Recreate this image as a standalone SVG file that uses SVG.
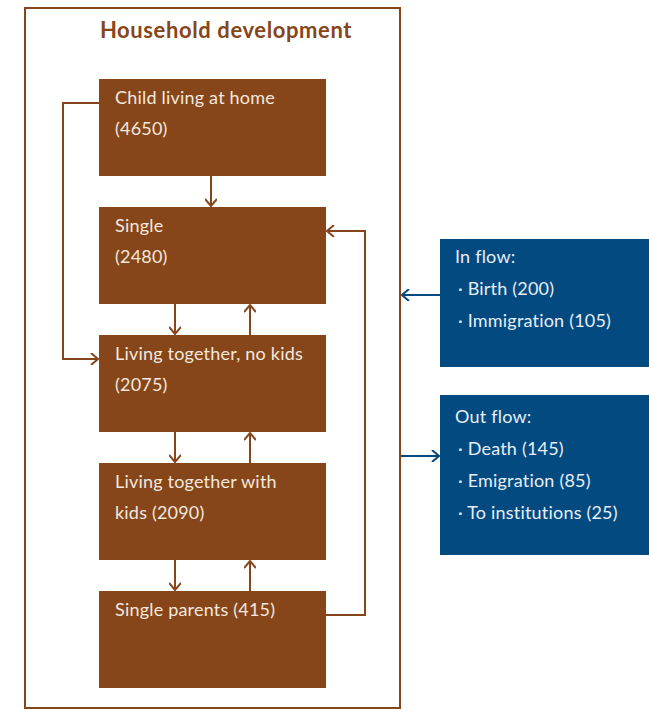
<svg xmlns="http://www.w3.org/2000/svg" width="649" height="710" viewBox="0 0 649 710">
<defs>
<style>
.frame{fill:#fff;stroke:#86461a;stroke-width:2}
.title{font-family:"Lato","Liberation Sans",sans-serif;font-weight:bold;font-size:22px;letter-spacing:0.6px;fill:#86461a}
.bbox{fill:#86461a}
.blue{fill:#034a80}
.t{font-family:"Lato","Liberation Sans",sans-serif;font-size:18px;letter-spacing:0.2px;fill:#f3e8de}
.tb{font-family:"Lato","Liberation Sans",sans-serif;font-size:18px;letter-spacing:0.2px;fill:#e8eef6}
.c{fill:none;stroke:#86461a;stroke-width:2}
.cb{fill:none;stroke:#034a80;stroke-width:2}
</style>
<marker id="ah" viewBox="0 0 12 12" refX="11" refY="6" markerWidth="12" markerHeight="12" markerUnits="userSpaceOnUse" orient="auto">
<polyline points="4,0 11,6 4,12" fill="none" stroke="#86461a" stroke-width="2"/>
</marker>
<marker id="ahb" viewBox="0 0 12 12" refX="11" refY="6" markerWidth="12" markerHeight="12" markerUnits="userSpaceOnUse" orient="auto">
<polyline points="4,0 11,6 4,12" fill="none" stroke="#034a80" stroke-width="2"/>
</marker>
</defs>
<rect class="frame" x="25" y="8" width="375" height="700"/>
<text class="title" x="226" y="38" text-anchor="middle">Household development</text>
<g id="connectors">
<path class="c" d="M211,175 V206" marker-end="url(#ah)"/>
<path class="c" d="M175,304 V334" marker-end="url(#ah)"/>
<path class="c" d="M250,335 V305" marker-end="url(#ah)"/>
<path class="c" d="M175,432 V462" marker-end="url(#ah)"/>
<path class="c" d="M250,463 V433" marker-end="url(#ah)"/>
<path class="c" d="M175,560 V590" marker-end="url(#ah)"/>
<path class="c" d="M250,591 V561" marker-end="url(#ah)"/>
<path class="c" d="M99,103 H63 V359 H98" marker-end="url(#ah)"/>
<path class="c" d="M326,615 H365 V231 H327" marker-end="url(#ah)"/>
<path class="cb" d="M440,295 H402" marker-end="url(#ahb)"/>
<path class="cb" d="M401,456 H439" marker-end="url(#ahb)"/>
</g>
<g id="child">
<rect class="bbox" x="99" y="79" width="227" height="97"/>
<text class="t" x="115" y="104">Child living at home</text>
<text class="t" x="115" y="135">(4650)</text>
</g>
<g id="single">
<rect class="bbox" x="99" y="207" width="227" height="97"/>
<text class="t" x="115" y="232">Single</text>
<text class="t" x="115" y="263">(2480)</text>
</g>
<g id="together-nokids">
<rect class="bbox" x="99" y="335" width="227" height="97"/>
<text class="t" x="115" y="360">Living together, no kids</text>
<text class="t" x="115" y="391">(2075)</text>
</g>
<g id="together-kids">
<rect class="bbox" x="99" y="463" width="227" height="97"/>
<text class="t" x="115" y="488">Living together with</text>
<text class="t" x="115" y="519">kids (2090)</text>
</g>
<g id="single-parents">
<rect class="bbox" x="99" y="591" width="227" height="97"/>
<text class="t" x="115" y="616">Single parents (415)</text>
</g>
<g id="inflow">
<rect class="blue" x="440" y="239" width="209" height="128"/>
<text class="tb" x="455" y="263">In flow:</text>
<text class="tb" x="458" y="295">· Birth (200)</text>
<text class="tb" x="458" y="327">· Immigration (105)</text>
</g>
<g id="outflow">
<rect class="blue" x="440" y="395" width="209" height="160"/>
<text class="tb" x="455" y="423">Out flow:</text>
<text class="tb" x="458" y="455">· Death (145)</text>
<text class="tb" x="458" y="487">· Emigration (85)</text>
<text class="tb" x="458" y="519">· To institutions (25)</text>
</g>
</svg>
